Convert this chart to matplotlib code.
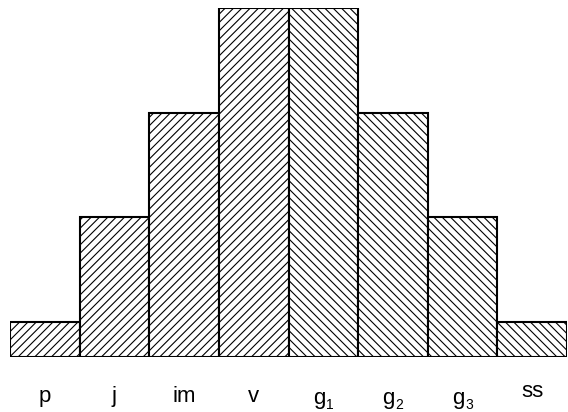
import matplotlib.pyplot as plt

plt.rcParams['font.family'] = ['Liberation Sans', 'DejaVu Sans']
plt.rcParams['hatch.linewidth'] = 0.8

labels = ['p', 'j', 'im', 'v', 'g', 'g', 'g', 'ss']
subscripts = ['', '', '', '', '1', '2', '3', '']
heights = [1, 4, 7, 10, 10, 7, 4, 1]
hatches = ['////', '////', '////', '////', '\\\\\\\\', '\\\\\\\\', '\\\\\\\\', '\\\\\\\\']

fig = plt.figure(figsize=(5.68, 4.12), dpi=100)
ax = fig.add_axes([10 / 568, 55 / 412, 557 / 568, 349 / 412])

x = list(range(len(labels)))
bars = ax.bar(x, heights, width=1.0, color='white', edgecolor='black', linewidth=1.5)
for b, h in zip(bars, hatches):
    b.set_hatch(h)

# category labels, with subscripts drawn as separate smaller text
for i, (lab, sub) in enumerate(zip(labels, subscripts)):
    dx = -3 if sub else 0
    dy = -32.5
    if sub:
        dy = -33.5
    if lab == 'ss':
        dy = -29
    ax.annotate(lab, xy=(i, 0), xycoords=('data', 'axes fraction'),
                xytext=(dx, dy), textcoords='offset points',
                ha='center', va='baseline', fontsize=16)
    if sub:
        ax.annotate(sub, xy=(i, 0), xycoords=('data', 'axes fraction'),
                    xytext=(2, -37.5), textcoords='offset points',
                    ha='left', va='baseline', fontsize=10)

ax.set_xlim(-0.5, len(labels) - 0.5)
ax.set_ylim(0, 10)
ax.set_xticks([])
ax.set_yticks([])
for s in ax.spines.values():
    s.set_visible(False)

fig.savefig('out.png', dpi=100)
